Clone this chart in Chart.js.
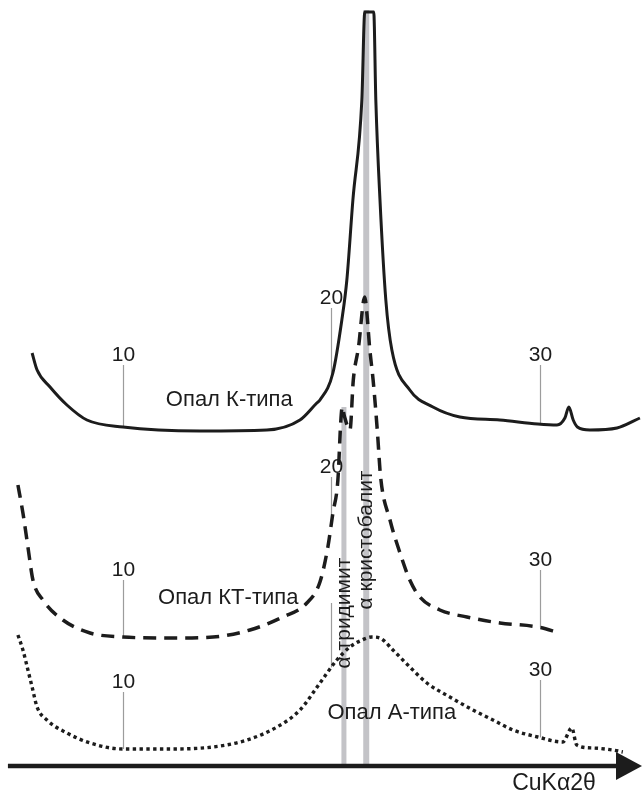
<!DOCTYPE html>
<html>
<head>
<meta charset="utf-8">
<script src="https://cdn.jsdelivr.net/npm/chart.js@4.4.1/dist/chart.umd.min.js"></script>
<style>
html, body { margin: 0; padding: 0; background: #fff; }
#chart { display: block; }
</style>
</head>
<body>
<canvas id="chart" width="642" height="794"></canvas>
<script>
// ---- data (2theta, intensity with stacking offset) ----
const twoThetaK = [5.64, 5.88, 6.5, 7.31, 8.27, 10, 13.69, 16.9, 18.49, 19.3, 19.45, 20.07, 20.5, 20.74, 21.03, 21.46, 21.6, 22.03, 22.13, 22.33, 22.61, 22.9, 23.76, 24.87, 26.16, 28.08, 29.9, 30.82, 31.2, 31.39, 31.6, 31.8, 32.4, 33.7, 34.8];
const intensityK = [41.3, 39.6, 37.9, 36.1, 34.6, 33.9, 33.5, 33.6, 34.6, 36.3, 36.6, 39.3, 44.6, 48.6, 56.6, 66.6, 75.4, 75.4, 66.6, 56.6, 46.6, 41.6, 37.6, 35.9, 34.9, 34.6, 34.2, 34.1, 34.8, 35.9, 34.6, 33.9, 33.6, 33.8, 34.8];

const twoThetaKT = [4.96, 5.2, 5.44, 5.68, 6.16, 7.12, 8.42, 10, 12.11, 14.32, 16.09, 17.67, 18.82, 19.45, 19.83, 20.07, 20.31, 20.45, 20.52, 20.62, 20.89, 21.05, 21.3, 21.6, 21.7, 21.83, 22.0, 22.2, 22.36, 22.81, 23.29, 23.76, 24.24, 25.2, 26.5, 28.08, 29.9, 30.96];
const intensityKT = [28.1, 25.3, 21.9, 18.6, 16.6, 14.6, 13.3, 12.9, 12.8, 12.9, 13.6, 14.9, 16.3, 18.4, 21.9, 25.3, 28.6, 34.5, 35.9, 35.0, 33.6, 38.6, 41.9, 46.9, 45.3, 41.9, 38.6, 33.6, 28.9, 24.6, 21.3, 18.6, 16.9, 15.6, 14.9, 14.3, 13.9, 13.3];

const twoThetaA = [4.96, 5.2, 5.44, 5.64, 5.88, 6.35, 7.31, 8.42, 10, 12.11, 14.32, 15.95, 17.39, 18.49, 19.45, 20.26, 20.89, 21.37, 21.94, 22.33, 22.95, 23.76, 24.58, 25.68, 26.79, 27.75, 28.71, 29.9, 31.1, 31.53, 31.77, 32.54, 33.5, 33.98];
const intensityA = [13.1, 11.6, 9.6, 7.9, 5.9, 4.6, 3.3, 2.3, 1.7, 1.7, 1.9, 2.6, 3.9, 5.6, 8.3, 10.6, 11.9, 12.5, 12.9, 12.8, 11.6, 9.9, 8.3, 6.9, 5.6, 4.6, 3.6, 2.9, 2.4, 3.8, 2.1, 1.8, 1.6, 1.4];

const seriesNames = ['Опал К-типа', 'Опал КТ-типа', 'Опал А-типа'];

// 2theta marks drawn on every curve
const tickValues = [10, 20, 30];
const tickTextK = ['10', '20', '30'];
const tickTextKT = ['10', '20', '30'];
const tickTextA = ['10', '', '30'];

// reference reflections
const bandPositions = [20.6, 21.67];
const bandTops = [35.9, 75.6];
const bandLabels = ['α тридимит', 'α кристобалит'];

const axisTitle = 'CuKα2θ';

// ---- placement of annotations (chart units) ----
const layout = {
  tickLabelY: [[41.1, 46.8, 41.1], [19.6, 29.9, 20.6], [8.4, 17.3, 9.6]],
  nameX: [15.1, 15.05, 22.9],
  nameY: [36.6, 16.8, 5.3],
  bandLabelY: [15.3, 22.6],
  bandWidths: [5, 6],
  axisStart: 4.48
};

const FONT_TICK = '21px "Liberation Sans", Arial, sans-serif';
const FONT_NAME = '22px "Liberation Sans", Arial, sans-serif';
const FONT_AXIS = '23px "Liberation Sans", Arial, sans-serif';
const INK = '#1c1c1c';

function toPoints(xs, ys) {
  return xs.map((v, i) => ({ x: v, y: ys[i] }));
}

function valueAt(xs, ys, v) {
  for (let i = 0; i < xs.length - 1; i++) {
    if (v >= xs[i] && v <= xs[i + 1]) {
      const t = (v - xs[i]) / (xs[i + 1] - xs[i]);
      return ys[i] + t * (ys[i + 1] - ys[i]);
    }
  }
  return ys[0];
}

const curves = [
  { xs: twoThetaK, ys: intensityK, texts: tickTextK },
  { xs: twoThetaKT, ys: intensityKT, texts: tickTextKT },
  { xs: twoThetaA, ys: intensityA, texts: tickTextA }
];

const decorPlugin = {
  id: 'decor',
  beforeDatasetsDraw(chart) {
    const { ctx, scales: { x, y } } = chart;
    ctx.save();

    // grey bars of the reference phases
    ctx.strokeStyle = '#c3c3c7';
    ctx.lineCap = 'butt';
    bandPositions.forEach((p, i) => {
      const px = x.getPixelForValue(p);
      ctx.lineWidth = layout.bandWidths[i];
      ctx.beginPath();
      ctx.moveTo(px, y.getPixelForValue(0));
      ctx.lineTo(px, y.getPixelForValue(bandTops[i]));
      ctx.stroke();
    });

    // 10 / 20 / 30 marks down to each curve
    ctx.textAlign = 'center';
    ctx.textBaseline = 'middle';
    curves.forEach((c, s) => {
      tickValues.forEach((t, i) => {
        const px = Math.round(x.getPixelForValue(t)) + 0.5;
        const labelPx = y.getPixelForValue(layout.tickLabelY[s][i]);
        const bottom = y.getPixelForValue(valueAt(c.xs, c.ys, t));
        ctx.strokeStyle = '#9c9c9c';
        ctx.lineWidth = 1.2;
        ctx.beginPath();
        ctx.moveTo(px, labelPx + 10);
        ctx.lineTo(px, bottom);
        ctx.stroke();
        if (c.texts[i]) {
          ctx.fillStyle = INK;
          ctx.font = FONT_TICK;
          ctx.fillText(c.texts[i], px, labelPx);
        }
      });
      ctx.fillStyle = INK;
      ctx.font = FONT_NAME;
      ctx.fillText(seriesNames[s], x.getPixelForValue(layout.nameX[s]), y.getPixelForValue(layout.nameY[s]));
    });
    ctx.restore();
  },
  afterDatasetsDraw(chart) {
    const { ctx, scales: { x, y } } = chart;
    ctx.save();
    ctx.fillStyle = INK;
    ctx.font = FONT_TICK;
    ctx.textAlign = 'center';
    ctx.textBaseline = 'middle';

    // rotated phase names
    bandLabels.forEach((txt, i) => {
      ctx.save();
      ctx.translate(x.getPixelForValue(bandPositions[i]), y.getPixelForValue(layout.bandLabelY[i]));
      ctx.rotate(-Math.PI / 2);
      ctx.fillText(txt, 0, 0);
      ctx.restore();
    });

    // 2theta axis with arrow
    const y0 = y.getPixelForValue(0);
    const xStart = x.getPixelForValue(layout.axisStart);
    const xEnd = chart.chartArea.right;
    ctx.strokeStyle = INK;
    ctx.lineWidth = 4.5;
    ctx.beginPath();
    ctx.moveTo(xStart, y0);
    ctx.lineTo(xEnd - 20, y0);
    ctx.stroke();
    ctx.beginPath();
    ctx.moveTo(xEnd, y0);
    ctx.lineTo(xEnd - 26, y0 - 14);
    ctx.lineTo(xEnd - 26, y0 + 14);
    ctx.closePath();
    ctx.fill();

    ctx.font = FONT_AXIS;
    ctx.fillText(axisTitle, xEnd - 88, y0 + 18);
    ctx.restore();
  }
};

function iniciarGrafico() {
  const ctx = document.querySelector('#chart');
  new Chart(ctx, {
    type: 'line',
    data: {
      datasets: [
        {
          label: seriesNames[0],
          data: toPoints(twoThetaK, intensityK),
          borderColor: INK,
          borderWidth: 3,
          pointRadius: 0,
          cubicInterpolationMode: 'monotone'
        },
        {
          label: seriesNames[1],
          data: toPoints(twoThetaKT, intensityKT),
          borderColor: INK,
          borderWidth: 3.5,
          borderDash: [13, 8],
          pointRadius: 0,
          cubicInterpolationMode: 'monotone'
        },
        {
          label: seriesNames[2],
          data: toPoints(twoThetaA, intensityA),
          borderColor: INK,
          borderWidth: 3.4,
          borderDash: [3.4, 3.4],
          borderCapStyle: 'butt',
          pointRadius: 0,
          cubicInterpolationMode: 'monotone'
        }
      ]
    },
    options: {
      responsive: false,
      animation: false,
      devicePixelRatio: 1,
      events: [],
      layout: { padding: 0 },
      plugins: {
        legend: { display: false },
        tooltip: { enabled: false }
      },
      scales: {
        x: { type: 'linear', min: 4.1, max: 34.9, display: false },
        y: { type: 'linear', min: -2.8, max: 76.6, display: false }
      }
    },
    plugins: [decorPlugin]
  });
}

document.addEventListener('DOMContentLoaded', () => {
  iniciarGrafico();
});
</script>
</body>
</html>
